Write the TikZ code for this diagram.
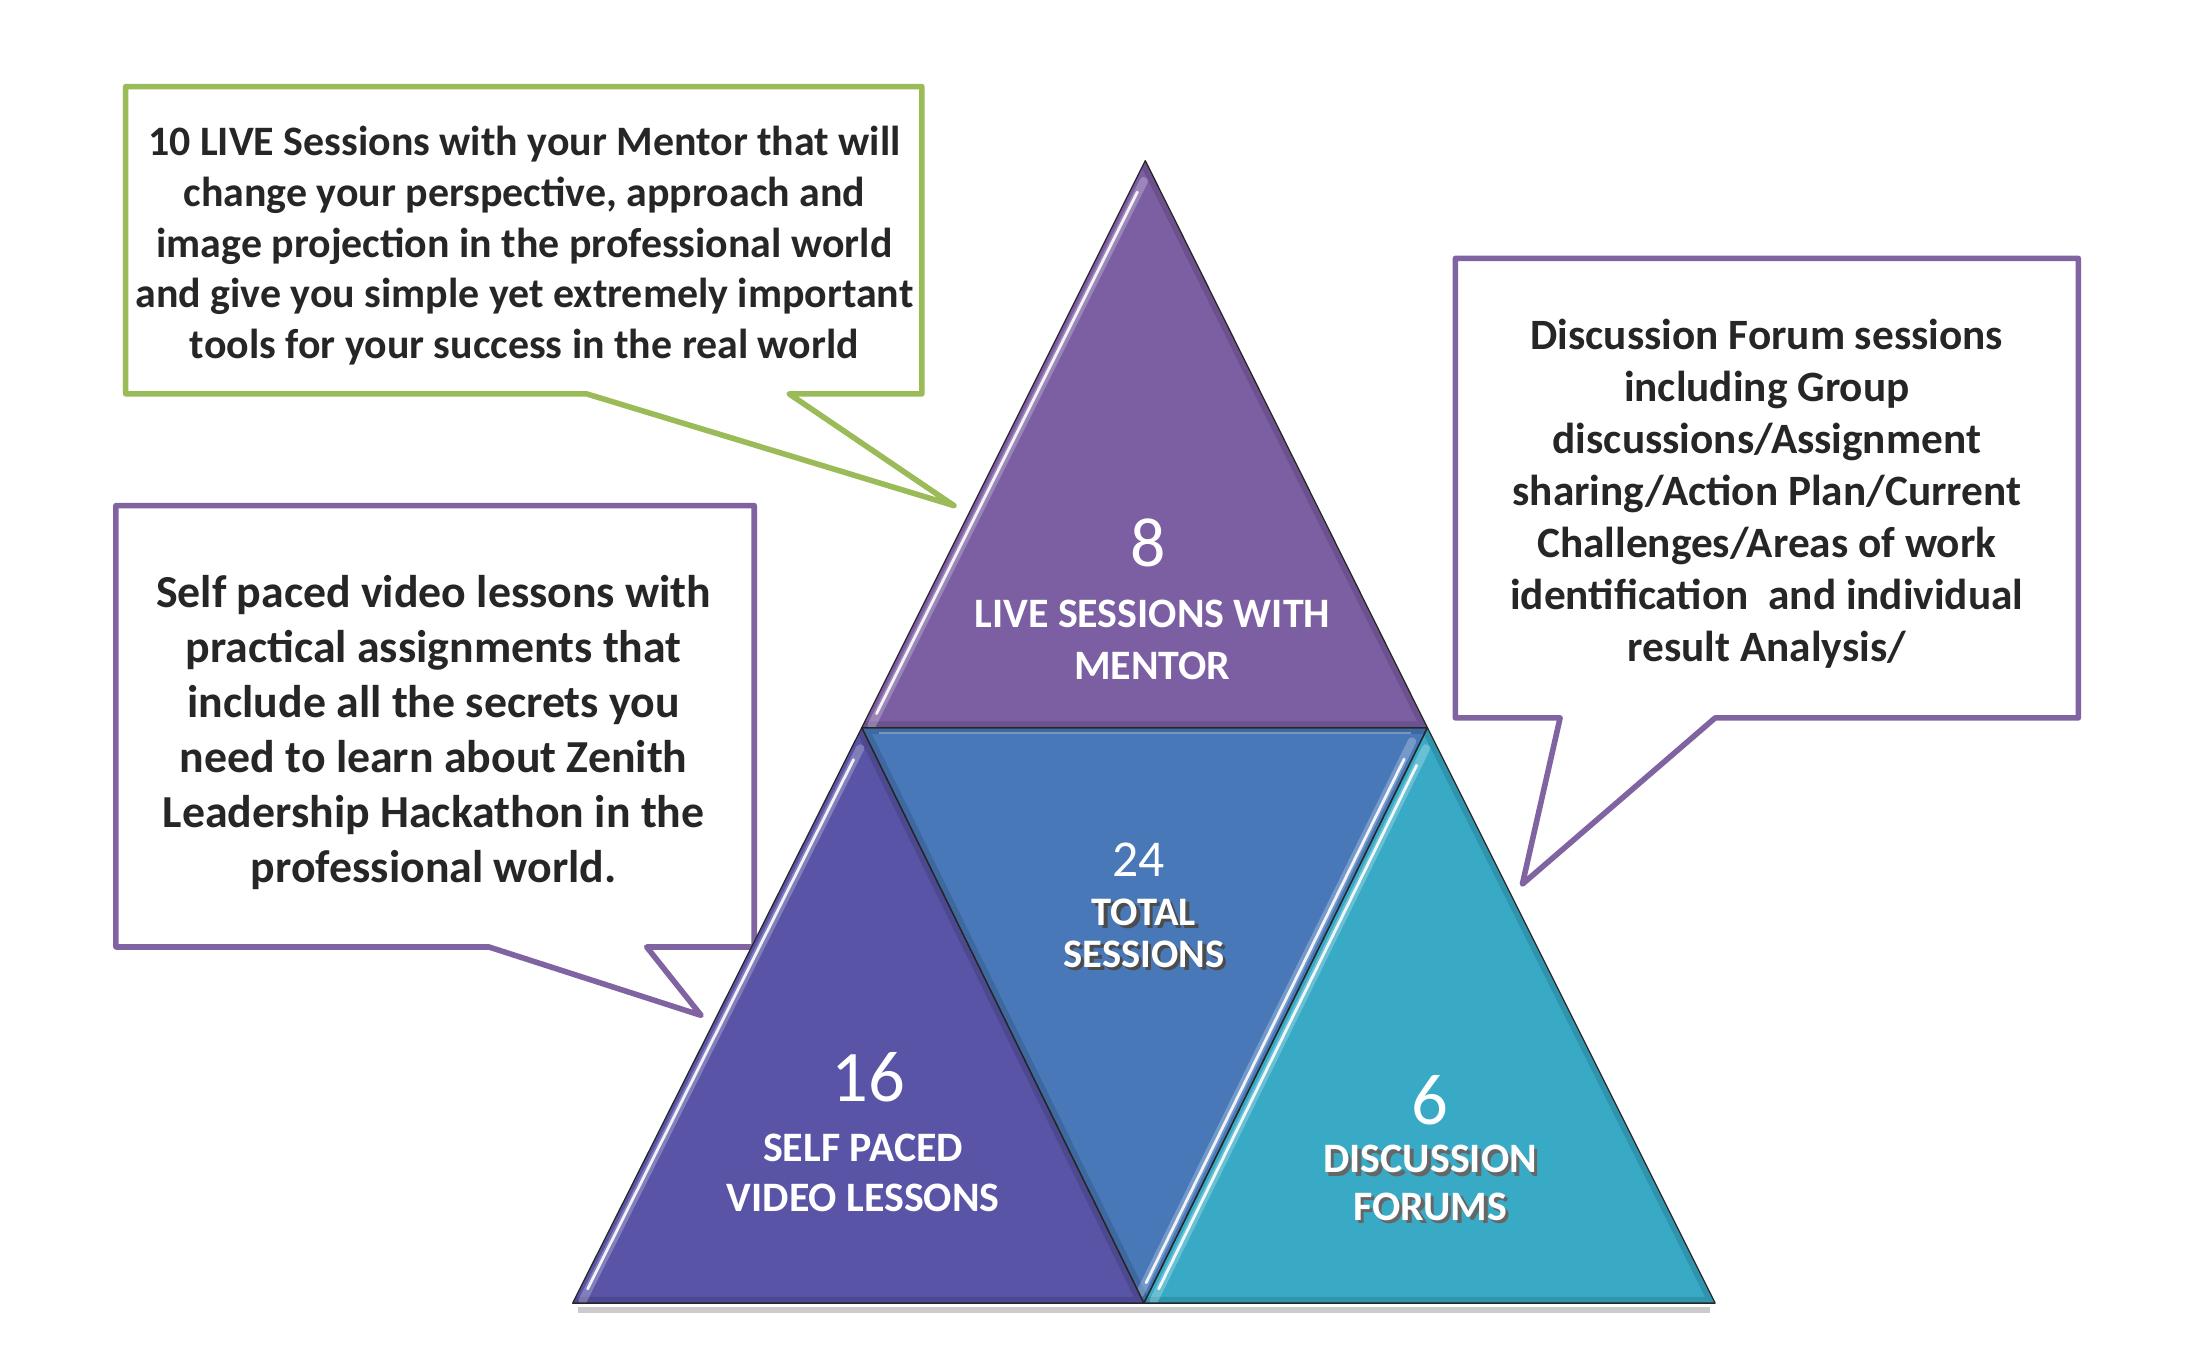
\documentclass[tikz,border=0pt]{standalone}
\usepackage{fontspec}
\setmainfont{Carlito}
\usetikzlibrary{calc}
\definecolor{cgreen}{RGB}{155,187,89}
\definecolor{cpurple}{RGB}{128,100,162}
\definecolor{ttop}{RGB}{124,94,162}
\definecolor{tleft}{RGB}{89,84,166}
\definecolor{tmid}{RGB}{72,120,184}
\definecolor{tright}{RGB}{56,170,198}
\definecolor{txt}{RGB}{38,38,38}
\begin{document}
\begin{tikzpicture}[x=1pt,y=-1pt,
  callout/.style={line width=4pt, line join=round, fill=white},
  bodytxt/.style={text=txt, font=\bfseries\fontsize{30}{36.25}\selectfont, align=center, inner sep=0pt},
  tri/.style={draw=black!85, line width=0.9pt, line join=round},
  inshade/.style={black, opacity=0.13, line width=9pt},
  hlband/.style={white, opacity=0.25, line width=6pt, line cap=round},
  hl/.style={white, opacity=0.9, line width=2pt, line cap=round},
  num/.style={text=white, inner sep=0pt},
  lbl/.style={text=white, font=\bfseries\fontsize{30}{37}\selectfont, align=center, inner sep=0pt}]
\useasboundingbox (0,0) rectangle (1568,968.7);
\fill[white] (0,0) rectangle (1568,968.7);

% callouts
\draw[callout, draw=cgreen] (90,62) -- (660,62) -- (660,282) -- (565,282) -- (683,362) -- (420,282) -- (90,282) -- cycle;
\draw[callout, draw=cpurple] (83,362) -- (540,362) -- (540,678) -- (463,678) -- (502,727) -- (350,678) -- (83,678) -- cycle;
\draw[callout, draw=cpurple] (1042,185) -- (1488,185) -- (1488,514) -- (1228,514) -- (1090,633) -- (1117,514) -- (1042,514) -- cycle;

\node[bodytxt] (gtext) at (375.5,176) {10 LIVE Sessions with your Mentor that will\\change your perspective, approach and\\image projection in the professional world\\and give you simple yet extremely important\\tools for your success in the real world};
\node[bodytxt, font=\bfseries\fontsize{32.8}{39.4}\selectfont] (ltext) at (310.5,524.5) {Self paced video lessons with\\practical assignments that\\include all the secrets you\\need to learn about Zenith\\Leadership Hackathon in the\\professional world.};
\node[bodytxt, font=\bfseries\fontsize{31}{37.3}\selectfont] (rtext) at (1265,353.5) {Discussion Forum sessions\\including Group\\discussions/Assignment\\sharing/Action Plan/Current\\Challenges/Areas of work\\identification\ \ and individual\\result Analysis/};

% pyramid
\coordinate (A) at (820,115);
\coordinate (L) at (617,521);
\coordinate (R) at (1022,521);
\coordinate (BL) at (410,933);
\coordinate (BM) at (819,933);
\coordinate (BR) at (1228,933);

\draw[black!45, line width=4pt, opacity=0.45] (414,938) -- (1224,938);

\fill[fill=ttop] (A) -- (L) -- (R) -- cycle;
\fill[fill=tleft] (L) -- (BL) -- (BM) -- cycle;
\fill[fill=tmid] (L) -- (R) -- (BM) -- cycle;
\fill[fill=tright] (R) -- (BM) -- (BR) -- cycle;

% inner shading
\begin{scope}
\clip (A) -- (L) -- (R) -- cycle;
\draw[inshade] (A) -- (R) -- (L);
\draw[hlband] ($(A)!0.03!(L)+(5,2.5)$) -- ($(A)!0.99!(L)+(5,2.5)$);
\end{scope}
\begin{scope}
\clip (L) -- (BL) -- (BM) -- cycle;
\draw[inshade] (L) -- (BM) -- (BL);
\draw[hlband] ($(L)!0.03!(BL)+(5,2.5)$) -- ($(L)!0.99!(BL)+(5,2.5)$);
\end{scope}
\begin{scope}
\clip (L) -- (R) -- (BM) -- cycle;
\draw[inshade] (BM) -- (L) -- (R);
\draw[hlband] ($(R)!0.03!(BM)+(-5,-2.5)$) -- ($(R)!0.99!(BM)+(-5,-2.5)$);
\end{scope}
\begin{scope}
\clip (R) -- (BM) -- (BR) -- cycle;
\draw[inshade] (R) -- (BR) -- (BM);
\draw[hlband] ($(R)!0.03!(BM)+(5,2.5)$) -- ($(R)!0.99!(BM)+(5,2.5)$);
\end{scope}

% outlines
\draw[tri] (A) -- (L) -- (R) -- cycle;
\draw[tri] (L) -- (BL) -- (BM) -- cycle;
\draw[tri] (L) -- (R) -- (BM) -- cycle;
\draw[tri] (R) -- (BM) -- (BR) -- cycle;

% bevel highlights
\draw[hl] ($(A)!0.05!(L)+(4.5,2.2)$) -- ($(A)!0.97!(L)+(4.5,2.2)$);
\draw[hl] ($(L)!0.05!(BL)+(4.5,2.2)$) -- ($(L)!0.97!(BL)+(4.5,2.2)$);
\draw[hl] ($(R)!0.06!(BM)+(-4.5,-2.2)$) -- ($(R)!0.97!(BM)+(-4.5,-2.2)$);
\draw[hl] ($(R)!0.06!(BM)+(4.5,2.2)$) -- ($(R)!0.97!(BM)+(4.5,2.2)$);
\draw[white, opacity=0.3, line width=1.5pt] ($(L)+(12,4)$) -- ($(R)+(-12,4)$);

% labels
\node[num, font=\fontsize{50}{50}\selectfont] (n8) at (822,389) {8};
\node[lbl] (l8) at (825,458) {LIVE SESSIONS WITH\\MENTOR};
\node[num, font=\fontsize{37}{37}\selectfont] (n24) at (815,615.5) {24};
\node[lbl, text=black!70, font=\bfseries\fontsize{29}{30}\selectfont] at (821.5,670.5) {TOTAL\\SESSIONS};
\node[lbl, font=\bfseries\fontsize{29}{30}\selectfont] (l24) at (819,668) {TOTAL\\SESSIONS};
\node[num, font=\fontsize{52}{52}\selectfont] (n16) at (622,771) {16};
\node[lbl, font=\bfseries\fontsize{30}{36}\selectfont] (l16) at (618,840) {SELF PACED\\VIDEO LESSONS};
\node[num, font=\fontsize{52}{52}\selectfont] (n6) at (1024,788) {6};
\node[lbl, text=black!60, font=\bfseries\fontsize{30}{34}\selectfont] at (1026.5,849.5) {DISCUSSION\\FORUMS};
\node[lbl, font=\bfseries\fontsize{30}{34}\selectfont] (l6) at (1024,847) {DISCUSSION\\FORUMS};
\end{tikzpicture}
\end{document}
